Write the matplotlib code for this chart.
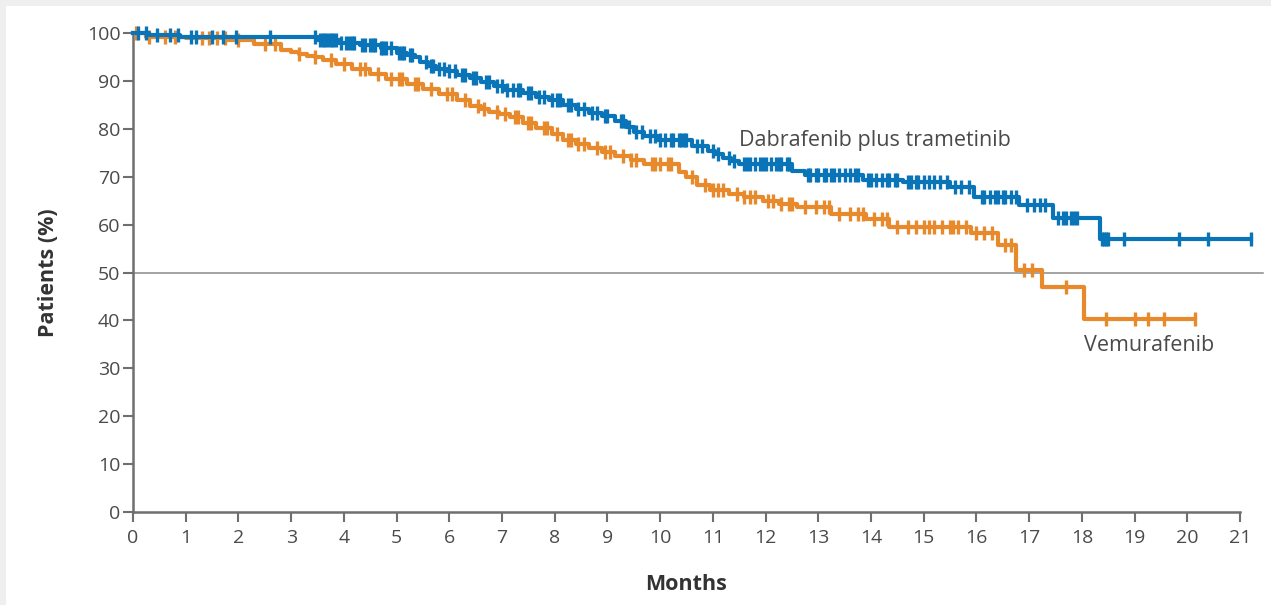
import numpy as np
import matplotlib
matplotlib.use("Agg")
import matplotlib.pyplot as plt
from matplotlib.patches import Rectangle

plt.rcParams['font.family'] = ['Open Sans', 'DejaVu Sans']

# Kaplan-Meier steps (months, % patients)
dt_times = [0, 0.3, 0.9, 3.5, 3.9, 4.3, 4.7, 5.0, 5.2, 5.35, 5.45, 5.6, 5.75, 5.95, 6.15, 6.4,
            6.6, 6.85, 7.05, 7.4, 7.65, 7.9, 8.15, 8.4, 8.65, 8.9, 9.15, 9.35, 9.5, 9.7, 9.95,
            10.6, 10.9, 11.05, 11.2, 11.35, 11.5, 12.5, 12.75, 13.85, 14.6, 15.5, 15.95, 16.8,
            17.45, 18.35, 21.2]
dt_surv = [100, 99.5, 99.2, 98.6, 98.0, 97.5, 96.8, 95.8, 95.4, 95.0, 93.9, 93.2, 92.5, 92.0,
           91.3, 90.6, 89.8, 88.9, 88.0, 87.4, 86.7, 86.0, 85.0, 84.2, 83.4, 82.7, 81.6, 80.4,
           79.4, 78.5, 77.6, 76.4, 75.4, 74.8, 74.0, 73.3, 72.6, 71.2, 70.4, 69.4, 68.8, 67.8,
           65.8, 64.1, 61.4, 57.0, 57.0]
dt_censor = [0.1, 0.25, 0.45, 0.7, 0.85, 1.1, 1.2, 1.5, 1.7, 1.95, 2.6, 3.45, 3.55, 3.6, 3.65,
             3.7, 3.75, 3.8, 3.85, 3.95, 4.05, 4.1, 4.15, 4.2, 4.35, 4.4, 4.5, 4.55, 4.6, 4.7,
             4.75, 4.8, 4.9, 5.05, 5.1, 5.15, 5.25, 5.3, 5.55, 5.65, 5.7, 5.8, 5.9, 6.0, 6.1,
             6.25, 6.3, 6.45, 6.5, 6.7, 6.75, 6.9, 7.0, 7.1, 7.2, 7.3, 7.35, 7.5, 7.55, 7.7,
             7.8, 7.95, 8.05, 8.1, 8.25, 8.3, 8.45, 8.55, 8.7, 8.8, 8.95, 9.0, 9.25, 9.3, 9.4,
             9.55, 9.65, 9.8, 9.9, 10.0, 10.1, 10.2, 10.25, 10.35, 10.4, 10.45, 10.5, 10.7,
             10.8, 11.0, 11.1, 11.3, 11.4, 11.6, 11.65, 11.7, 11.8, 11.9, 11.95, 12.0, 12.1,
             12.2, 12.25, 12.3, 12.4, 12.45, 12.8, 12.85, 12.95, 13.0, 13.1, 13.15, 13.25,
             13.3, 13.4, 13.5, 13.6, 13.7, 13.75, 13.95, 14.0, 14.1, 14.2, 14.3, 14.35, 14.45,
             14.5, 14.7, 14.75, 14.85, 14.9, 15.0, 15.1, 15.2, 15.3, 15.45, 15.6, 15.7, 15.85,
             16.1, 16.15, 16.25, 16.35, 16.4, 16.5, 16.55, 16.65, 16.75, 16.95, 17.1, 17.2,
             17.3, 17.55, 17.65, 17.7, 17.8, 17.85, 17.9, 18.38, 18.42, 18.45, 18.5, 18.8,
             19.85, 20.4, 21.2]

vem_times = [0, 0.25, 1.0, 1.8, 2.3, 2.8, 3.0, 3.15, 3.3, 3.45, 3.6, 3.85, 4.15, 4.5, 4.8, 5.2,
             5.5, 5.8, 6.15, 6.4, 6.6, 6.75, 6.95, 7.15, 7.4, 7.65, 7.95, 8.15, 8.4, 8.65, 8.9,
             9.15, 9.45, 9.7, 10.35, 10.5, 10.7, 10.95, 11.3, 11.6, 11.95, 12.25, 12.6, 13.25,
             13.9, 14.35, 15.9, 16.4, 16.75, 17.25, 18.05, 20.15]
vem_surv = [100, 99.2, 98.9, 98.5, 97.6, 96.5, 96.0, 95.7, 95.3, 94.9, 94.4, 93.5, 92.5, 91.4,
            90.4, 89.4, 88.4, 87.2, 86.0, 84.8, 84.2, 83.6, 83.0, 82.4, 81.2, 80.1, 79.0, 77.6,
            76.8, 76.0, 75.2, 74.4, 73.5, 72.6, 71.0, 69.9, 68.2, 67.3, 66.4, 65.7, 64.9, 64.2,
            63.6, 62.3, 61.2, 59.6, 58.3, 55.8, 50.6, 46.9, 40.2, 40.2]
vem_censor = [0.05, 0.3, 0.6, 0.8, 1.3, 1.45, 1.6, 1.75, 2.0, 2.5, 2.7, 3.15, 3.45, 3.75, 4.0,
              4.3, 4.4, 4.65, 4.9, 5.05, 5.1, 5.35, 5.4, 5.65, 5.95, 6.05, 6.3, 6.55, 6.65, 6.9,
              7.05, 7.25, 7.3, 7.5, 7.55, 7.8, 7.85, 8.05, 8.25, 8.3, 8.45, 8.55, 8.8, 8.95, 9.05,
              9.3, 9.45, 9.55, 9.85, 9.9, 10.0, 10.15, 10.2, 10.6, 10.85, 11.0, 11.1, 11.2,
              11.45, 11.6, 11.7, 11.8, 12.05, 12.15, 12.3, 12.45, 12.5, 12.75, 12.95, 13.1, 13.2,
              13.4, 13.6, 13.75, 13.85, 14.05, 14.2, 14.3, 14.5, 14.7, 14.85, 15.0, 15.1, 15.2,
              15.35, 15.5, 15.55, 15.65, 15.8, 16.0, 16.15, 16.3, 16.55, 16.65, 16.9, 17.05,
              17.7, 18.45, 19.0, 19.25, 19.55, 20.15]

x_ticks = list(range(0, 22))
y_ticks = list(range(0, 101, 10))

blue = '#0a74b8'
orange = '#e8892c'
grey = '#6f6f6f'
txt = '#4a4a4a'


def step_value(times, surv, t):
    idx = np.searchsorted(times, t, side='right') - 1
    return np.asarray(surv)[idx]


fig = plt.figure(figsize=(12.71, 6.05), dpi=100, facecolor='#efefef')
fig.patches.append(Rectangle((6 / 1271, 0), 1, 1 - 6 / 605, transform=fig.transFigure,
                             facecolor='white', edgecolor='none', zorder=-10))
ax = fig.add_axes([133 / 1271, 1 - 512 / 605, 1107 / 1271, 479 / 605])
ax.set_facecolor('none')

ax.axhline(50, xmin=0, xmax=(1263 - 133) / 1107, color='#8a8a8a', lw=1.1, clip_on=False, zorder=1)

for times, surv, cens, col in [(vem_times, vem_surv, vem_censor, orange),
                               (dt_times, dt_surv, dt_censor, blue)]:
    ax.step(times, surv, where='post', color=col, lw=3.0, clip_on=False, zorder=3)
    ax.plot(cens, step_value(times, surv, cens), ls='none', marker='|', ms=10, mew=2.4,
            color=col, clip_on=False, zorder=3)

ax.set_xlim(0, 21)
ax.set_ylim(0, 100)
ax.set_xticks(x_ticks)
ax.set_yticks(y_ticks)
for s in ['top', 'right']:
    ax.spines[s].set_visible(False)
for s in ['left', 'bottom']:
    ax.spines[s].set_color(grey)
    ax.spines[s].set_linewidth(1.8)
ax.tick_params(colors=grey, width=1.5, length=7, labelsize=14, labelcolor=txt)
ax.tick_params(axis='x', pad=5)
ax.tick_params(axis='y', pad=2)

ax.set_xlabel('Months', fontsize=15.5, fontweight='bold', color='#333333', labelpad=20)
ax.set_ylabel('Patients (%)', fontsize=15.5, fontweight='bold', color='#333333', labelpad=20)

ax.text(11.5, 77.5, 'Dabrafenib plus trametinib', fontsize=15.5, color=txt, va='center')
ax.text(18.05, 34.8, 'Vemurafenib', fontsize=15.5, color=txt, va='center')

fig.savefig('out.png', dpi=100, facecolor=fig.get_facecolor())
